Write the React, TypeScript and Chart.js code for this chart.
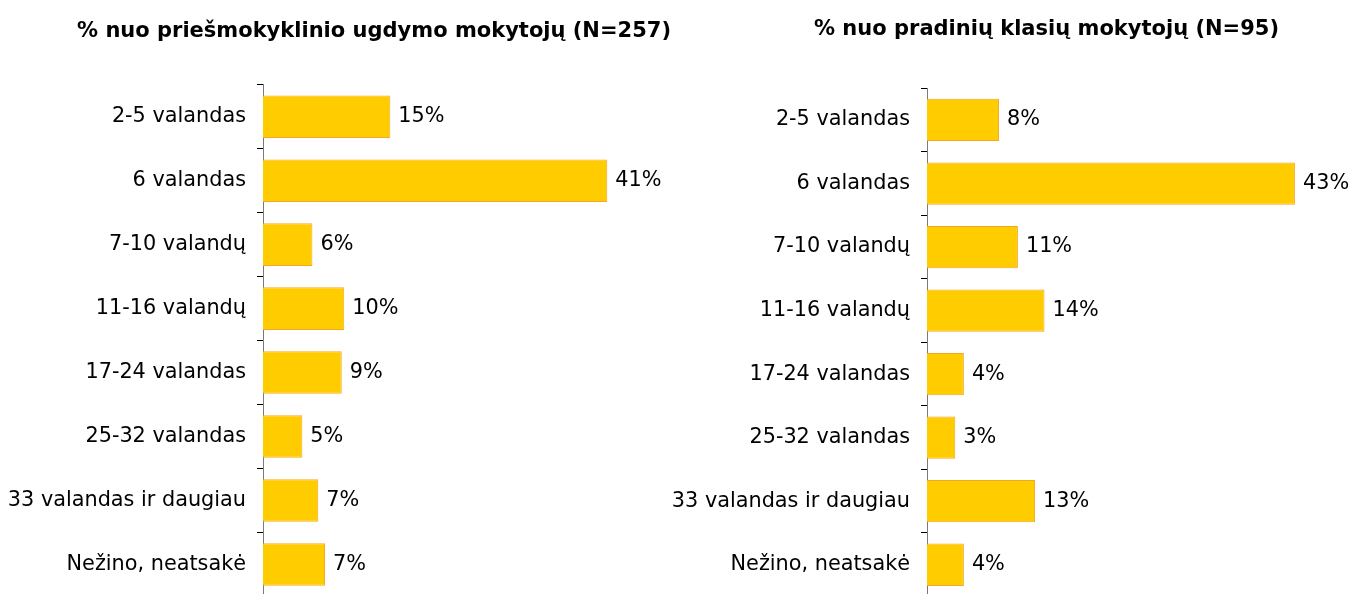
import React, { useEffect, useRef } from "react";
import { Chart, registerables } from "chart.js";

Chart.register(...registerables);

const categories = [
  "2-5 valandas",
  "6 valandas",
  "7-10 valandų",
  "11-16 valandų",
  "17-24 valandas",
  "25-32 valandas",
  "33 valandas ir daugiau",
  "Nežino, neatsakė",
];

const preschoolValues = [15.2, 41.1, 5.9, 9.7, 9.4, 4.7, 6.6, 7.4];
const primaryValues = [8.4, 42.9, 10.6, 13.7, 4.3, 3.3, 12.6, 4.3];

const preschoolTitle = "% nuo priešmokyklinio ugdymo mokytojų (N=257)";
const primaryTitle = "% nuo pradinių klasių mokytojų (N=95)";

const FONT = "DejaVu Sans";

const valueLabels = {
  id: "valueLabels",
  afterDatasetsDraw(chart: any) {
    const ctx = chart.ctx;
    const meta = chart.getDatasetMeta(0);
    const data = chart.data.datasets[0].data as number[];
    ctx.save();
    ctx.font = `20.8px "${FONT}"`;
    ctx.fillStyle = "#000";
    ctx.textAlign = "left";
    ctx.textBaseline = "middle";
    meta.data.forEach((el: any, i: number) => {
      ctx.fillText(Math.round(data[i]) + "%", el.x + 8, el.y);
    });
    ctx.restore();
  },
};

type PanelProps = {
  values: number[];
  title: string;
  left: number;
  width: number;
  height: number;
  xMax: number;
  padding: { left: number; right: number; top: number; bottom: number };
  titlePad: { top: number; bottom: number };
  axisWidth: number;
};

function Panel(p: PanelProps) {
  const ref = useRef<HTMLCanvasElement | null>(null);
  useEffect(() => {
    if (!ref.current) return;
    const chart = new Chart(ref.current, {
      type: "bar",
      data: {
        labels: categories,
        datasets: [
          {
            data: p.values,
            backgroundColor: "#FFCC00",
            borderColor: "#F5A623",
            borderWidth: 1,
            categoryPercentage: 1,
            barPercentage: 0.665,
          },
        ],
      },
      options: {
        indexAxis: "y",
        responsive: false,
        animation: false,
        layout: { padding: p.padding },
        plugins: {
          legend: { display: false },
          tooltip: { enabled: false },
          title: {
            display: true,
            text: p.title,
            color: "#000",
            font: { family: FONT, size: 21, weight: "bold" },
            padding: p.titlePad,
          },
        },
        scales: {
          x: { display: false, min: 0, max: p.xMax },
          y: {
            afterFit: (scale: any) => {
              scale.width = p.axisWidth;
            },
            grid: {
              drawOnChartArea: false,
              drawTicks: true,
              tickLength: 6,
              color: "#000",
              offset: true,
            },
            border: { display: true, color: "#7a7a7a", width: 1 },
            ticks: {
              color: "#000",
              font: { family: FONT, size: 20.8 },
              padding: 11,
              autoSkip: false,
            },
          },
        },
      },
      plugins: [valueLabels],
    } as any);
    return () => chart.destroy();
  }, []);
  return (
    <div style={{ position: "absolute", left: p.left, top: 0 }}>
      <canvas ref={ref} width={p.width} height={p.height} style={{ display: "block" }} />
    </div>
  );
}

export default function App() {
  return (
    <div
      style={{
        position: "fixed",
        left: 0,
        top: 0,
        width: 1352,
        height: 594,
        overflow: "hidden",
        background: "#fff",
      }}
    >
      <Panel
        values={preschoolValues}
        title={preschoolTitle}
        left={0}
        width={760}
        height={620}
        xMax={57.9}
        padding={{ left: 0, right: 12, top: 0, bottom: 22.5 }}
        titlePad={{ top: 19, bottom: 40.5 }}
        axisWidth={263}
      />
      <Panel
        values={primaryValues}
        title={primaryTitle}
        left={660}
        width={780}
        height={620}
        xMax={59}
        padding={{ left: 0, right: 7, top: 0, bottom: 19 }}
        titlePad={{ top: 17, bottom: 46 }}
        axisWidth={267}
      />
    </div>
  );
}
